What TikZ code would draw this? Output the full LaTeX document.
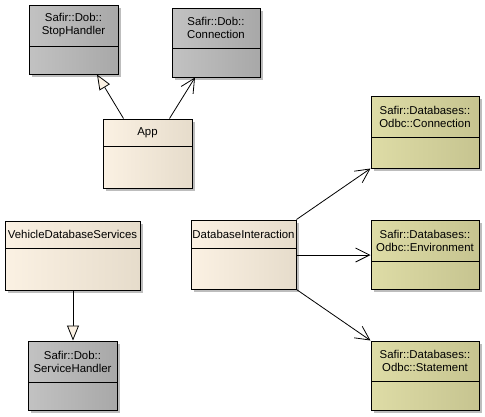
\documentclass[tikz,border=0pt]{standalone}
\usepackage{fontspec}
\setmainfont{Liberation Sans}
\usetikzlibrary{arrows.meta,shadows,fit,calc}

\definecolor{grayL}{HTML}{C2C2C2}
\definecolor{grayR}{HTML}{A8A8A8}
\definecolor{creamL}{HTML}{FBF1E3}
\definecolor{creamR}{HTML}{E6DCCB}
\definecolor{oliveL}{HTML}{DEDCA6}
\definecolor{oliveR}{HTML}{C6C490}
\definecolor{shadowgray}{HTML}{BDBDBD}

% name, colour, left, top, right, bottom, divider, title
\newcommand{\umlclass}[8]{%
  \node[classbox,left color=#2L,middle color=#2L,right color=#2R,
    fit={(#3,#4) (#5,#6)}] (#1) {};
  \node[classname] (#1-name) at ($(#3,#4)!.5!(#5,#7)$) {#8};
  \draw[line width=1pt] (#3,#7) -- (#5,#7);
}

\begin{document}
\begin{tikzpicture}[x=1pt,y=-1pt]
  \tikzset{
    classbox/.style={draw,line width=1pt,inner sep=0pt,
      drop shadow={shadow xshift=3pt,shadow yshift=-3pt,fill=shadowgray,opacity=1}},
    classname/.style={align=center,font=\fontsize{11.4}{13}\selectfont,inner sep=0pt},
    inherit/.style={line width=0.8pt,-{Triangle[length=15pt,width=12pt,fill=creamL]}},
    assoc/.style={line width=0.8pt,-{Straight Barb[length=14pt,width=14pt]}}
  }
  \useasboundingbox (0,0) rectangle (485,416);

  % top row
  \umlclass{stop}{gray}{29}{5}{118}{74}{46}{Safir::Dob::\\StopHandler}
  \umlclass{conn}{gray}{172}{8}{260}{77}{48}{Safir::Dob::\\Connection}
  \umlclass{app}{cream}{103}{119}{192}{188}{146}{App}

  % middle row
  \umlclass{vds}{cream}{5}{221}{140}{290}{248}{VehicleDatabaseServices}
  \umlclass{dbi}{cream}{191}{220}{296}{289}{248}{DatabaseInteraction}
  \umlclass{odbcconn}{olive}{371}{96}{479}{168}{137}{Safir::Databases::\\Odbc::Connection}
  \umlclass{odbcenv}{olive}{371}{220}{479}{289}{261}{Safir::Databases::\\Odbc::Environment}

  % bottom row
  \umlclass{svc}{gray}{28}{341}{117}{410}{382}{Safir::Dob::\\ServiceHandler}
  \umlclass{stmt}{olive}{371}{341}{479}{410}{381}{Safir::Databases::\\Odbc::Statement}

  % connectors
  \coordinate (appL) at ($(app.north west)+(21,0)$);
  \coordinate (appR) at ($(app.north west)+(67,0)$);
  \draw[inherit] (appL) -- (stop.south west -| 97,0);
  \draw[assoc] (appR) -- (conn.south west -| 195,0);
  \draw[inherit] (vds.south west -| 73,0) -- (svc.north west -| 73,0);
  \draw[assoc] (dbi.north east) -- (odbcconn.south west);
  \draw[assoc] (dbi.east |- 0,255) -- (odbcenv.west |- 0,255);
  \draw[assoc] (dbi.south east) -- (stmt.north west);
\end{tikzpicture}
\end{document}
